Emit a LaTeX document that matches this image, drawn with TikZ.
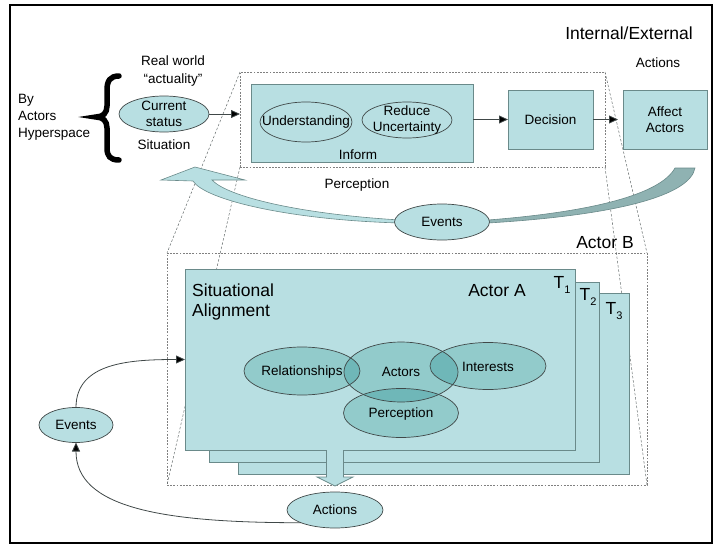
\documentclass[tikz,border=0pt]{standalone}
\usepackage{fontspec}
\setmainfont{Liberation Sans}
\usetikzlibrary{shapes.geometric,arrows.meta,calc}
\definecolor{boxfill}{HTML}{B8DFE2}
\definecolor{venn}{HTML}{92CBCB}
\definecolor{vennov}{HTML}{6FB7B8}
\definecolor{tailfill}{HTML}{8FB2B2}
\definecolor{edge}{HTML}{6A8A8A}
\definecolor{dkedge}{HTML}{404848}
\begin{document}
\begin{tikzpicture}[x=1pt,y=-1pt,
  box/.style={draw=edge,fill=boxfill,line width=0.8pt,inner sep=0pt,outer sep=0pt,anchor=north west},
  dbox/.style={draw=gray,dash pattern=on 1.8pt off 1.4pt,line width=0.6pt,inner sep=0pt,outer sep=0pt,anchor=north west},
  persp/.style={draw=dkedge!80,dash pattern=on 2.5pt off 1.8pt,line width=0.5pt},
  ell/.style={ellipse,draw=dkedge,fill=boxfill,line width=0.7pt,inner sep=0pt,outer sep=0pt},
  lbl/.style={font=\fontsize{13.5}{16}\selectfont,align=center,inner sep=0pt},
  big/.style={font=\fontsize{17.5}{20}\selectfont,align=left,inner sep=0pt},
  arr/.style={draw=dkedge,line width=0.8pt,-{Triangle[length=9pt,width=8pt,fill=black]}},
  vennline/.style={draw=dkedge,line width=0.7pt}
]
\useasboundingbox (0,0) rectangle (716,546);
% frame
\draw[line width=2.2pt] (10,5) rectangle (712,543);

% dashed boxes
\node[dbox,minimum width=480pt,minimum height=232pt] (actb) at (167,253) {};
\node[dbox,minimum width=365pt,minimum height=95pt] (pbox) at (240,72) {};
% perspective lines
\draw[persp] (pbox.north west) -- (actb.north west);
\draw[persp] (pbox.south west) -- (actb.south west);
\draw[persp] (pbox.north east) -- (actb.north east);
\draw[persp] (pbox.south east) -- (actb.south east);

% big curved arrow (left, light)
\filldraw[fill=boxfill,draw=edge,line width=0.6pt]
  (400,223) .. controls (290,220) and (205,200) .. (193,181)
  -- (161,180) -- (195,167) -- (245,180) -- (212,180)
  .. controls (228,197) and (300,214) .. (400,220) -- cycle;
% big curved arrow (right, dark tail)
\filldraw[fill=tailfill,draw=edge,line width=0.6pt]
  (488,220) .. controls (590,212) and (660,195) .. (675,168)
  -- (695,168) .. controls (690,195) and (620,215) .. (488,223) -- cycle;

% top row
\node[box,minimum width=222pt,minimum height=78pt] (inform) at (251,84) {};
\node[box,minimum width=85pt,minimum height=59pt] (dec) at (508,90) {};
\node[box,minimum width=84pt,minimum height=59pt] (aff) at (623,90) {};
\node[ell,minimum width=90pt,minimum height=36pt] (cur) at (164,114) {};
\node[ell,minimum width=92pt,minimum height=40pt] (und) at (306,122) {};
\node[ell,minimum width=90pt,minimum height=36pt] (red) at (407,120) {};
\node[ell,minimum width=95pt,minimum height=36pt] (ev1) at (442,222) {};

\node[lbl] (curt) at (cur) {Current\\status};
\node[lbl] (undt) at (und) {Understanding};
\node[lbl] (redt) at (red) {Reduce\\Uncertainty};
\node[lbl] (inft) at (358,155) {Inform};
\node[lbl] (dect) at (dec) {Decision};
\node[lbl] (afft) at (aff) {Affect\\Actors};
\node[lbl] (ev1t) at (ev1) {Events};

\draw[arr] (cur.east) -- (cur.east -| pbox.west);
\draw[arr] (inform.east |- dec.west) -- (dec.west);
\draw[arr,shorten >=5pt] (dec.east) -- (aff.west);

% brace
\draw[line width=5.5pt,line cap=round]
  (119,76) .. controls (110,76) and (107,81) .. (107,90) -- (107,106)
  .. controls (107,113) and (103,117) .. (96,117)
  .. controls (103,117) and (107,121) .. (107,128) -- (107,148)
  .. controls (107,156) and (110,160) .. (119,160);

% labels top
\node[lbl,font=\fontsize{13.5}{18}\selectfont] (rw) at (173,71) {Real world\\“actuality”};
\node[lbl,font=\fontsize{13.5}{17}\selectfont,align=left,anchor=west] (by) at (18,117) {By\\Actors\\Hyperspace};
\node[lbl] (sit) at (164,145) {Situation};
\node[big] (ie) at (629,33) {Internal/External};
\node[lbl] (acts) at (658,63) {Actions};
\node[lbl] (perc) at (357,185) {Perception};

% stacked boxes
\node[box,minimum width=391pt,minimum height=181pt] (t3) at (238,293) {};
\node[box,minimum width=390pt,minimum height=180pt] (t2) at (209,282) {};
\node[box,minimum width=390pt,minimum height=181pt] (t1) at (185,269) {};

\node[big] (actbt) at (605,243) {Actor B};
\node[big,anchor=west] (sat) at (192,302) {Situational\\Alignment};
\node[big] (acta) at (497,291) {Actor A};
\node[big] (t1t) at (562,285) {T\raisebox{-5pt}{\fontsize{11}{11}\selectfont 1}};
\node[big] (t2t) at (588,297) {T\raisebox{-5pt}{\fontsize{11}{11}\selectfont 2}};
\node[big] (t3t) at (614,311) {T\raisebox{-5pt}{\fontsize{11}{11}\selectfont 3}};

% Venn
\node[ellipse,fill=venn,minimum width=116pt,minimum height=48pt,inner sep=0pt] (rel) at (302,371) {};
\node[ellipse,fill=venn,minimum width=114pt,minimum height=60pt,inner sep=0pt] (act) at (401,372) {};
\node[ellipse,fill=venn,minimum width=116pt,minimum height=47pt,inner sep=0pt] (int) at (488,366) {};
\node[ellipse,fill=venn,minimum width=115pt,minimum height=49pt,inner sep=0pt] (per) at (401,413) {};
\begin{scope}
  \clip (act.center) ellipse [x radius=57pt,y radius=30pt];
  \fill[vennov] (rel.center) ellipse [x radius=58pt,y radius=24pt];
  \fill[vennov] (int.center) ellipse [x radius=58pt,y radius=23.5pt];
  \fill[vennov] (per.center) ellipse [x radius=57.5pt,y radius=24.5pt];
\end{scope}
\draw[vennline] (rel.center) ellipse [x radius=58pt,y radius=24pt];
\draw[vennline] (act.center) ellipse [x radius=57pt,y radius=30pt];
\draw[vennline] (int.center) ellipse [x radius=58pt,y radius=23.5pt];
\draw[vennline] (per.center) ellipse [x radius=57.5pt,y radius=24.5pt];
\node[lbl] (relt) at (302,372) {Relationships};
\node[lbl] (actt) at (401,372) {Actors};
\node[lbl] (intt) at (488,367) {Interests};
\node[lbl] (pert) at (401,414) {Perception};

% bottom
\node[ell,minimum width=96pt,minimum height=36pt] (acn) at (335,510) {};
\node[lbl] (acnt) at (acn) {Actions};
\node[ell,minimum width=74pt,minimum height=35pt] (ev2) at (76,425) {};
\node[lbl] (ev2t) at (ev2) {Events};

% block arrow down
\coordinate (dtop) at (t1.south -| acn.north);
\path (acn.north) ++(0,-6) coordinate (dtip);
\filldraw[fill=boxfill,draw=edge,line width=0.7pt]
  ($(dtop)+(-8.5,0)$) -- ($(dtip)+(-8.5,-9)$) -- ($(dtip)+(-18,-9)$) -- (dtip)
  -- ($(dtip)+(18,-9)$) -- ($(dtip)+(8.5,-9)$) -- ($(dtop)+(8.5,0)$);

\draw[arr] (ev2.north) .. controls +(0,-45) and +(-55,0) .. (t1.west);
\draw[arr] (acn.south west) .. controls +(-140,0) and +(0,65) .. (ev2.south);
\end{tikzpicture}
\end{document}
